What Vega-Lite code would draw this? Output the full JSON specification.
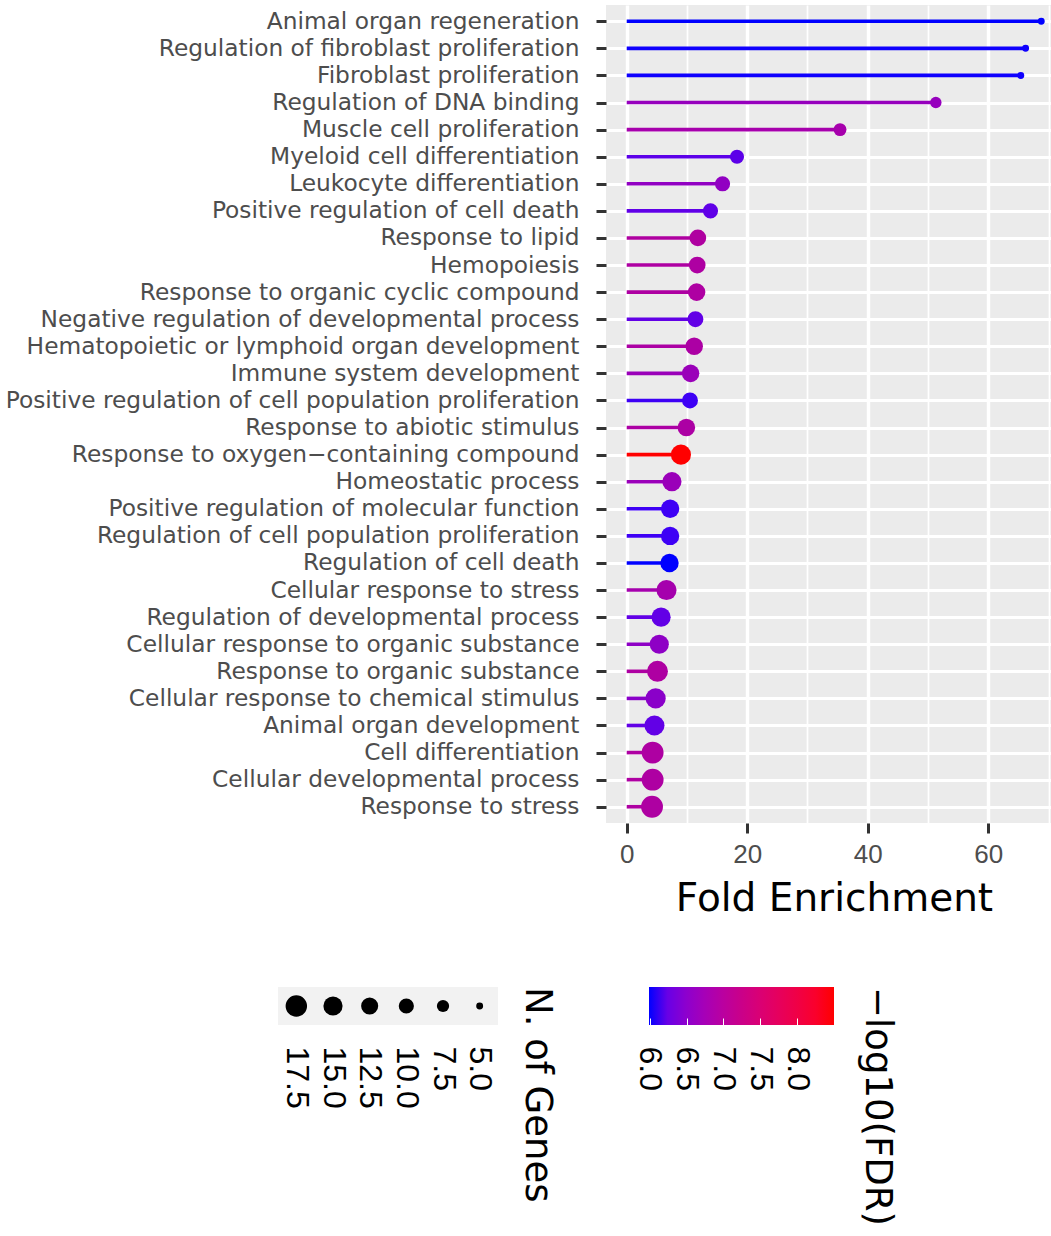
{
  "$schema": "https://vega.github.io/schema/vega-lite/v6.json",
  "padding": {"left": 5, "top": 5, "right": 5, "bottom": 5},
  "background": "#FFFFFF",
  "datasets": {
    "terms": [
      {"term": "Animal organ regeneration", "fold": 68.8, "fdr": 5.99, "genes": 5},
      {"term": "Regulation of fibroblast proliferation", "fold": 66.2, "fdr": 6.0, "genes": 5},
      {"term": "Fibroblast proliferation", "fold": 65.4, "fdr": 6.0, "genes": 5},
      {"term": "Regulation of DNA binding", "fold": 51.3, "fdr": 6.67, "genes": 7},
      {"term": "Muscle cell proliferation", "fold": 35.4, "fdr": 6.86, "genes": 8},
      {"term": "Myeloid cell differentiation", "fold": 18.3, "fdr": 6.22, "genes": 9},
      {"term": "Leukocyte differentiation", "fold": 15.9, "fdr": 6.62, "genes": 10},
      {"term": "Positive regulation of cell death", "fold": 13.9, "fdr": 6.24, "genes": 10},
      {"term": "Response to lipid", "fold": 11.8, "fdr": 6.98, "genes": 12},
      {"term": "Hemopoiesis", "fold": 11.7, "fdr": 6.96, "genes": 12},
      {"term": "Response to organic cyclic compound", "fold": 11.6, "fdr": 6.96, "genes": 13},
      {"term": "Negative regulation of developmental process", "fold": 11.4, "fdr": 6.25, "genes": 11},
      {"term": "Hematopoietic or lymphoid organ development", "fold": 11.2, "fdr": 6.94, "genes": 13},
      {"term": "Immune system development", "fold": 10.6, "fdr": 6.72, "genes": 13},
      {"term": "Positive regulation of cell population proliferation", "fold": 10.5, "fdr": 6.09, "genes": 11},
      {"term": "Response to abiotic stimulus", "fold": 9.9, "fdr": 6.94, "genes": 13},
      {"term": "Response to oxygen−containing compound", "fold": 9.0, "fdr": 8.5, "genes": 16},
      {"term": "Homeostatic process", "fold": 7.5, "fdr": 6.72, "genes": 15},
      {"term": "Positive regulation of molecular function", "fold": 7.2, "fdr": 6.09, "genes": 14},
      {"term": "Regulation of cell population proliferation", "fold": 7.2, "fdr": 6.09, "genes": 14},
      {"term": "Regulation of cell death", "fold": 7.1, "fdr": 5.99, "genes": 14},
      {"term": "Cellular response to stress", "fold": 6.6, "fdr": 6.85, "genes": 16},
      {"term": "Regulation of developmental process", "fold": 5.7, "fdr": 6.25, "genes": 15},
      {"term": "Cellular response to organic substance", "fold": 5.4, "fdr": 6.59, "genes": 15},
      {"term": "Response to organic substance", "fold": 5.1, "fdr": 6.96, "genes": 17},
      {"term": "Cellular response to chemical stimulus", "fold": 4.8, "fdr": 6.55, "genes": 16},
      {"term": "Animal organ development", "fold": 4.6, "fdr": 6.25, "genes": 16},
      {"term": "Cell differentiation", "fold": 4.3, "fdr": 6.96, "genes": 18},
      {"term": "Cellular developmental process", "fold": 4.3, "fdr": 6.96, "genes": 18},
      {"term": "Response to stress", "fold": 4.2, "fdr": 6.96, "genes": 18}
    ],
    "sizeKeys": [
      {"genes": 17.5}, {"genes": 15}, {"genes": 12.5}, {"genes": 10}, {"genes": 7.5}, {"genes": 5}
    ],
    "fdrRange": [{"lo": 5.99, "hi": 8.5}]
  },
  "config": {
    "view": {"stroke": null},
    "font": "DejaVu Sans"
  },
  "spacing": 68,
  "resolve": {"scale": {"size": "independent", "color": "independent"}},
  "vconcat": [
    {
      "spacing": 15,
      "hconcat": [
        {
          "width": 1,
          "height": 818,
          "data": {"name": "terms"},
          "mark": {"type": "point", "opacity": 0},
          "encoding": {
            "y": {
              "field": "term", "type": "nominal", "sort": null,
              "scale": {"type": "point", "padding": 0.6},
              "axis": {
                "orient": "right", "title": null, "labelAlign": "right", "labelPadding": 568,
                "labelFont": "DejaVu Sans", "labelFontSize": 23.3, "labelColor": "#4D4D4D", "labelLimit": 1000,
                "ticks": false, "domain": false, "grid": false
              }
            }
          }
        },
        {
          "width": 456,
          "height": 818,
          "view": {"fill": "#EBEBEB", "stroke": null},
          "data": {"name": "terms"},
          "encoding": {
            "y": {
              "field": "term", "type": "nominal", "sort": null,
              "scale": {"type": "point", "padding": 0.6},
              "axis": {
                "title": null, "labels": false, "ticks": true, "tickSize": 10, "tickWidth": 3, "tickColor": "#333333",
                "domain": false, "grid": true, "gridColor": "#FFFFFF", "gridWidth": 3.2
              }
            },
            "x": {
              "field": "fold", "type": "quantitative",
              "scale": {"domain": [-3.44, 72.24], "nice": false, "zero": false},
              "axis": {
                "orient": "bottom", "values": [0, 10, 20, 30, 40, 50, 60, 70], "title": "Fold Enrichment",
                "titleFont": "DejaVu Sans", "titleFontSize": 39, "titleFontWeight": "normal", "titleColor": "#000000", "titlePadding": 12,
                "labelFont": "Liberation Sans", "labelFontSize": 26, "labelColor": "#4D4D4D", "labelPadding": 8, "labelFlush": false,
                "labelExpr": "datum.value % 20 === 0 ? datum.label : ''",
                "tickSize": 10, "tickColor": "#333333",
                "tickWidth": {"condition": {"test": "datum.value % 20 === 0", "value": 3}, "value": 0},
                "tickOpacity": {"condition": {"test": "datum.value % 20 === 0", "value": 1}, "value": 0},
                "domain": false, "grid": true, "gridColor": "#FFFFFF",
                "gridWidth": {"condition": {"test": "datum.value % 20 === 0", "value": 3.4}, "value": 1.7}
              }
            },
            "color": {
              "field": "fdr", "type": "quantitative",
              "scale": {"type": "linear", "domain": [5.99, 8.5], "range": ["#0000FF", "#FF0000"], "interpolate": "lab", "nice": false, "zero": false},
              "legend": null
            }
          },
          "layer": [
            {
              "mark": {"type": "rule", "strokeWidth": 3.6},
              "encoding": {
                "x2": {"datum": 0}
              }
            },
            {
              "mark": {"type": "circle", "opacity": 1},
              "encoding": {
                "size": {
                  "field": "genes", "type": "quantitative",
                  "scale": {"type": "linear", "domain": [5, 7.5, 10, 12.5, 15, 17.5], "range": [48, 150, 230, 292, 368, 460], "zero": false, "nice": false},
                  "legend": null
                }
              }
            }
          ]
        }
      ]
    },
    {
      "spacing": 77,
      "hconcat": [
        {
          "width": 191, "height": 38,
          "data": {"values": []},
          "mark": {"type": "point", "opacity": 0}
        },
        {
          "width": 220, "height": 38,
          "view": {"fill": "#F2F2F2", "stroke": null},
          "data": {"name": "sizeKeys"},
          "title": {"text": "N. of Genes", "orient": "right", "anchor": "start", "angle": 90, "font": "DejaVu Sans", "fontSize": 37, "fontWeight": "normal", "color": "#000000", "offset": 20},
          "mark": {"type": "circle", "color": "#000000", "opacity": 1},
          "encoding": {
            "x": {
              "field": "genes", "type": "ordinal", "sort": "descending",
              "scale": {"type": "point", "padding": 0.5},
              "axis": {
                "orient": "bottom", "title": null, "labelAngle": 90, "labelAlign": "left", "labelBaseline": "middle",
                "labelFont": "Liberation Sans", "labelFontSize": 32, "labelColor": "#000000", "labelPadding": 21,
                "ticks": false, "domain": false, "grid": false, "labelExpr": "format(datum.value, '.1f')"
              }
            },
            "size": {
              "field": "genes", "type": "quantitative",
              "scale": {"type": "linear", "domain": [5, 7.5, 10, 12.5, 15, 17.5], "range": [48, 150, 230, 292, 368, 460], "zero": false, "nice": false},
              "legend": null
            }
          }
        },
        {
          "width": 185, "height": 38,
          "data": {"name": "fdrRange"},
          "title": {"text": "−log10(FDR)", "orient": "right", "anchor": "start", "angle": 90, "font": "DejaVu Sans", "fontSize": 37, "fontWeight": "normal", "color": "#000000", "offset": 24},
          "mark": {"type": "rect", "fill": {"gradient": "linear", "x1": 0, "y1": 0, "x2": 1, "y2": 0, "stops": [
            {"offset": 0, "color": "#0000FF"}, {"offset": 0.1, "color": "#6800E6"}, {"offset": 0.2, "color": "#8D00CE"},
            {"offset": 0.3, "color": "#A600B7"}, {"offset": 0.4, "color": "#BA00A0"}, {"offset": 0.5, "color": "#CA0089"},
            {"offset": 0.6, "color": "#DA0074"}, {"offset": 0.7, "color": "#E6005D"}, {"offset": 0.8, "color": "#F00046"},
            {"offset": 0.9, "color": "#FA002C"}, {"offset": 1, "color": "#FF0000"}]}},
          "encoding": {
            "x": {
              "field": "lo", "type": "quantitative",
              "scale": {"domain": [5.99, 8.5], "nice": false, "zero": false},
              "axis": {
                "orient": "bottom", "title": null, "values": [6, 6.5, 7, 7.5, 8], "format": ".1f",
                "labelAngle": 90, "labelAlign": "left", "labelBaseline": "middle",
                "labelFont": "Liberation Sans", "labelFontSize": 32, "labelColor": "#000000", "labelPadding": 28,
                "ticks": true, "tickSize": -7, "tickColor": "#FFFFFF", "tickWidth": 1, "zindex": 1,
                "domain": false, "grid": false
              }
            },
            "x2": {"field": "hi"}
          }
        }
      ]
    }
  ]
}
